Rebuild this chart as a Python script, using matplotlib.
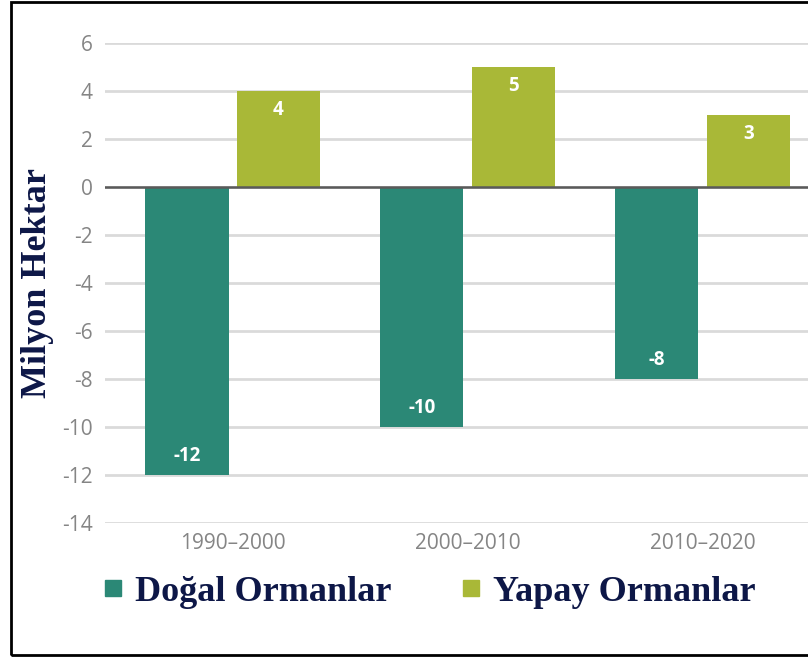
import matplotlib.pyplot as plt
import numpy as np
from matplotlib.patches import Rectangle
from matplotlib.lines import Line2D

# values
periods = ["1990–2000", "2000–2010", "2010–2020"]
dogal = [-12, -10, -8]
yapay = [4, 5, 3]
yticks = list(range(-14, 7, 2))

teal = "#2b8876"
olive = "#a9b837"
navy = "#0d1747"
grey = "#858585"

fig = plt.figure(figsize=(8.08, 6.57), dpi=100)
ax = fig.add_axes([0.13, 0.204, 0.87, 0.7306])

x = np.arange(len(periods))
w = 0.355
off = 0.195
b1 = ax.bar(x - off, dogal, w, color=teal, zorder=2)
b2 = ax.bar(x + off, yapay, w, color=olive, zorder=2)

# white value labels inside the bar ends
for bars in (b1, b2):
    ax.bar_label(bars, padding=-21, color="white", fontweight="bold",
                 fontsize=13.5, family="Open Sans")

ax.set_ylim(-14, 6)
ax.set_xlim(-0.543, 2.449)
ax.set_yticks(yticks)
ax.set_yticklabels([str(t) for t in yticks])
ax.set_xticks(x)
ax.set_xticklabels(periods)
ax.tick_params(axis="both", length=0, colors=grey, labelsize=15)
ax.tick_params(axis="y", pad=9)
ax.tick_params(axis="x", pad=7)
for lab in ax.get_xticklabels() + ax.get_yticklabels():
    lab.set_family("Open Sans")

ax.grid(axis="y", color="#dadada", linewidth=2, zorder=0)
ax.axhline(0, color="#5a5a5a", linewidth=1.8, zorder=3)
for s in ax.spines.values():
    s.set_visible(False)

fig.text(0.047, 0.569, "Milyon Hektar", rotation=90, ha="center", va="center",
         family="Liberation Serif", fontweight="bold", fontsize=26, color=navy)

handles = [Line2D([], [], marker="s", linestyle="none", markersize=12, color=teal),
           Line2D([], [], marker="s", linestyle="none", markersize=12, color=olive)]
fig.legend(handles, ["Doğal Ormanlar", "Yapay Ormanlar"], ncol=2, frameon=False,
           loc="center left", bbox_to_anchor=(0.127, 0.099), borderpad=0,
           borderaxespad=0, handletextpad=0.3, columnspacing=1.9, handlelength=0.6,
           prop={"family": "Liberation Serif", "weight": "bold", "size": 26})
for t in fig.legends[0].get_texts():
    t.set_color(navy)

fig.add_artist(Rectangle((0.0136, 0.003), 1.0, 0.994, transform=fig.transFigure,
                         fill=False, edgecolor="black", linewidth=2))

fig.savefig("out.png", dpi=100)
